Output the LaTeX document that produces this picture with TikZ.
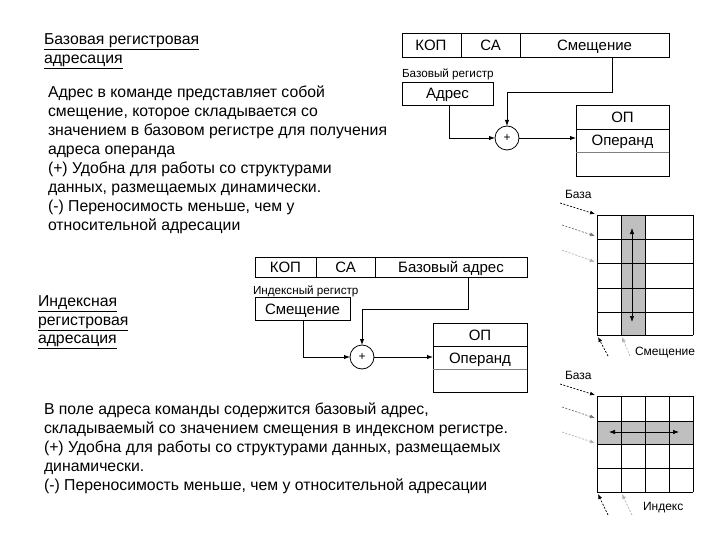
\documentclass[tikz,border=0pt]{standalone}
\usepackage{fontspec}
\setmainfont{Liberation Sans}
\usetikzlibrary{arrows.meta}
\begin{document}
\begin{tikzpicture}[x=1pt,y=-1pt,
  every node/.style={inner sep=0pt, outer sep=0pt},
  txt/.style={align=left, anchor=north west, font=\fontsize{15.8}{19}\selectfont},
  ttl/.style={align=left, anchor=north west, font=\fontsize{15.8}{18.5}\selectfont},
  small/.style={font=\fontsize{11.7}{13}\selectfont},
  lbl/.style={font=\fontsize{12}{13}\selectfont},
  bx/.style={font=\fontsize{15}{16}\selectfont, anchor=base},
  wire/.style={line width=0.9pt},
  arr/.style={line width=0.9pt, -{Latex[length=6pt,width=4.5pt]}},
  darr/.style={line width=0.7pt, dashed, dash pattern=on 2pt off 1.5pt, -{Latex[length=5pt,width=4pt]}},
  grid/.style={line width=0.8pt},
  summ/.style={circle, draw, line width=0.8pt, minimum size=24pt, font=\fontsize{12}{13}\selectfont}
]
\useasboundingbox (0,0) rectangle (720,540);
\fill[white] (0,0) rectangle (720,540);

% ---------- Top left text ----------
\node[ttl] (t1) at (44,34) {\underline{Базовая регистровая}\\\underline{адресация}};
\node[txt] (p1) at (48,86) {Адрес в команде представляет собой\\смещение, которое складывается со\\значением в базовом регистре для получения\\адреса операнда\\(+) Удобна для работы со структурами\\данных, размещаемых динамически.\\(-) Переносимость меньше, чем у\\относительной адресации};

% ---------- Top instruction ----------
\draw[wire] (402,33) rectangle (669,57);
\draw[wire] (461,33) -- (461,57);
\draw[wire] (520,33) -- (520,57);
\node[bx] (kop1) at (431,50.5) {КОП};
\node[bx] (ca1) at (490.5,50.5) {СА};
\node[bx] (sm1) at (594.5,50.5) {Смещение};
\node[small, anchor=west] (br) at (402,74) {Базовый регистр};
\node[draw, line width=0.8pt, minimum width=91pt, minimum height=23pt] (adr) at (447.5,93.5) {};
\node[bx] (adrt) at (447.5,99) {Адрес};
\node[summ] (s1) at (507,138) {+};
\coordinate (c1a) at (449,105);
\draw[arr] (c1a) |- (s1.west);
\coordinate (c1b) at (612,57);
\draw[arr] (c1b) -- (612,92) -| (s1.north);
% OP box 1
\draw[wire] (576,105) rectangle (669,176);
\draw[wire] (576,129) -- (669,129);
\draw[line width=0.8pt, gray] (576,152) -- (669,152);
\node[bx] (op1) at (622.5,122.5) {ОП};
\node[bx] (opd1) at (622.5,146) {Операнд};
\coordinate (op1in) at (576,138);
\draw[arr] (s1.east) -- (op1in);

% ---------- Grid 1 ----------
\fill[gray!50] (621,215) rectangle (645,335);
\foreach \yy in {215,239,263,288,312,335} \draw[grid] (597,\yy) -- (693,\yy);
\foreach \xx in {597,621,645,693} \draw[grid] (\xx,215) -- (\xx,335);
\coordinate (g1t) at (632,228);
\coordinate (g1b) at (632,322);
\draw[line width=0.7pt, {Latex[length=6pt,width=4.5pt]}-{Latex[length=6pt,width=4.5pt]}] (g1t) -- (g1b);
\node[lbl, anchor=west] (baza1) at (565,194) {База};
\coordinate (a1s) at (560,203); \coordinate (a1e) at (595,214);
\coordinate (a2s) at (562,225); \coordinate (a2e) at (595,236);
\coordinate (a3s) at (562,250); \coordinate (a3e) at (595,262);
\draw[darr, black] (a1s) -- (a1e);
\draw[darr, black!55] (a2s) -- (a2e);
\draw[darr, black!30] (a3s) -- (a3e);
\coordinate (b1s) at (608,356); \coordinate (b1e) at (598,337);
\coordinate (b2s) at (630,356); \coordinate (b2e) at (622,337);
\draw[darr, black] (b1s) -- (b1e);
\draw[darr, black!30] (b2s) -- (b2e);
\node[lbl, anchor=west] (smq) at (635,353) {Смещение};

% ---------- Second instruction ----------
\node[ttl] (t2) at (38,296) {\underline{Индексная}\\\underline{регистровая}\\\underline{адресация}};
\draw[wire] (255,257) rectangle (527,277);
\draw[wire] (316,257) -- (316,277);
\draw[wire] (375,257) -- (375,277);
\node[bx] (kop2) at (285.5,272.5) {КОП};
\node[bx] (ca2) at (345.5,272.5) {СА};
\node[bx] (ba2) at (451,272.5) {Базовый адрес};
\node[small, anchor=west] (ir) at (253,291) {Индексный регистр};
\node[draw, line width=0.8pt, minimum width=95pt, minimum height=23pt] (smr) at (302.5,308.5) {};
\node[bx] (smrt) at (302.5,314) {Смещение};
\node[summ] (s2) at (362,357) {+};
\coordinate (c2a) at (303,320);
\draw[arr] (c2a) |- (s2.west);
\coordinate (c2b) at (468,277);
\draw[arr] (c2b) -- (468,309) -| (s2.north);
\draw[wire] (433,323) rectangle (527,392);
\draw[wire] (433,346) -- (527,346);
\draw[line width=0.8pt, gray] (433,369) -- (527,369);
\node[bx] (op2) at (480,340) {ОП};
\node[bx] (opd2) at (480,363) {Операнд};
\coordinate (op2in) at (433,357);
\draw[arr] (s2.east) -- (op2in);

% ---------- Grid 2 ----------
\fill[gray!50] (597,421) rectangle (693,444);
\foreach \yy in {396,421,444,468,492} \draw[grid] (597,\yy) -- (693,\yy);
\foreach \xx in {597,621,645,669,693} \draw[grid] (\xx,396) -- (\xx,492);
\coordinate (g2l) at (609,432);
\coordinate (g2r) at (679,432);
\draw[line width=0.7pt, {Latex[length=6pt,width=4.5pt]}-{Latex[length=6pt,width=4.5pt]}] (g2l) -- (g2r);
\node[lbl, anchor=west] (baza2) at (565,375) {База};
\coordinate (d1s) at (560,384); \coordinate (d1e) at (595,395);
\coordinate (d2s) at (562,407); \coordinate (d2e) at (595,418);
\coordinate (d3s) at (562,432); \coordinate (d3e) at (595,443);
\draw[darr, black] (d1s) -- (d1e);
\draw[darr, black!55] (d2s) -- (d2e);
\draw[darr, black!30] (d3s) -- (d3e);
\coordinate (e1s) at (608,515); \coordinate (e1e) at (598,494);
\coordinate (e2s) at (632,515); \coordinate (e2e) at (622,494);
\draw[darr, black] (e1s) -- (e1e);
\draw[darr, black!30] (e2s) -- (e2e);
\node[lbl, anchor=west] (idx) at (643,508) {Индекс};

% ---------- Bottom text ----------
\node[txt] (p2) at (44,403) {В поле адреса команды содержится базовый адрес,\\складываемый со значением смещения в индексном регистре.\\(+) Удобна для работы со структурами данных, размещаемых\\динамически.\\(-) Переносимость меньше, чем у относительной адресации};
\end{tikzpicture}
\end{document}
